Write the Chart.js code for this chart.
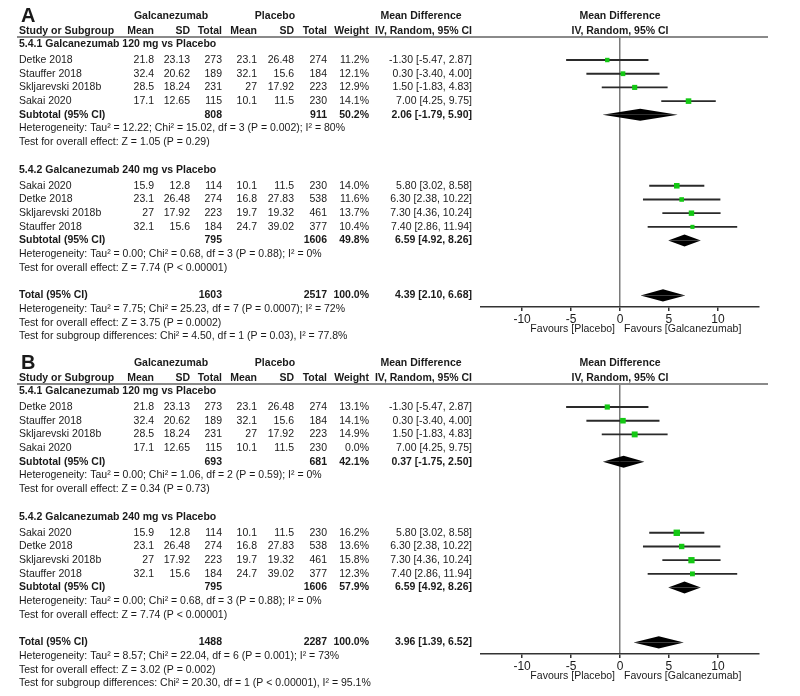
<!DOCTYPE html>
<html>
<head>
<meta charset="utf-8">
<script src="https://cdn.jsdelivr.net/npm/chart.js@4.4.1/dist/chart.umd.min.js"></script>
<style>
  body { margin: 0; background: #fff; }
  #wrap { position: relative; width: 800px; height: 696px; }
  canvas { position: absolute; left: 0; }
</style>
</head>
<body>
<div id="wrap">
  <canvas id="panelA" width="800" height="347" style="top:0"></canvas>
  <canvas id="panelB" width="800" height="349" style="top:347px"></canvas>
</div>
<script>
// ---- data: 5.4.1 Galcanezumab 120 mg vs Placebo ----
const studiesG1 = ['Detke 2018', 'Stauffer 2018', 'Skljarevski 2018b', 'Sakai 2020'];
const galcMeanG1 = [21.8, 32.4, 28.5, 17.1];
const galcSdG1 = [23.13, 20.62, 18.24, 12.65];
const galcNG1 = [273, 189, 231, 115];
const placMeanG1 = [23.1, 32.1, 27, 10.1];
const placSdG1 = [26.48, 15.6, 17.92, 11.5];
const placNG1 = [274, 184, 223, 230];
const mdG1 = [-1.30, 0.30, 1.50, 7.00];
const loG1 = [-5.47, -3.40, -1.83, 4.25];
const hiG1 = [2.87, 4.00, 4.83, 9.75];

// ---- data: 5.4.2 Galcanezumab 240 mg vs Placebo ----
const studiesG2 = ['Sakai 2020', 'Detke 2018', 'Skljarevski 2018b', 'Stauffer 2018'];
const galcMeanG2 = [15.9, 23.1, 27, 32.1];
const galcSdG2 = [12.8, 26.48, 17.92, 15.6];
const galcNG2 = [114, 274, 223, 184];
const placMeanG2 = [10.1, 16.8, 19.7, 24.7];
const placSdG2 = [11.5, 27.83, 19.32, 39.02];
const placNG2 = [230, 538, 461, 377];
const mdG2 = [5.80, 6.30, 7.30, 7.40];
const loG2 = [3.02, 2.38, 4.36, 2.86];
const hiG2 = [8.58, 10.22, 10.24, 11.94];

// weights per panel
const weightA1 = [11.2, 12.1, 12.9, 14.1];
const weightA2 = [14.0, 11.6, 13.7, 10.4];
const weightB1 = [13.1, 14.1, 14.9, 0.0];
const weightB2 = [16.2, 13.6, 15.8, 12.3];

// summaries: [subtotal 1, subtotal 2, total]
const sumMdA = [2.06, 6.59, 4.39];
const sumLoA = [-1.79, 4.92, 2.10];
const sumHiA = [5.90, 8.26, 6.68];
const sumGalcNA = [808, 795, 1603];
const sumPlacNA = [911, 1606, 2517];
const sumWeightA = [50.2, 49.8, 100.0];

const sumMdB = [0.37, 6.59, 3.96];
const sumLoB = [-1.75, 4.92, 1.39];
const sumHiB = [2.50, 8.26, 6.52];
const sumGalcNB = [693, 795, 1488];
const sumPlacNB = [681, 1606, 2287];
const sumWeightB = [42.1, 57.9, 100.0];

const statsA = [
  'Heterogeneity: Tau² = 12.22; Chi² = 15.02, df = 3 (P = 0.002); I² = 80%',
  'Test for overall effect: Z = 1.05 (P = 0.29)',
  'Heterogeneity: Tau² = 0.00; Chi² = 0.68, df = 3 (P = 0.88); I² = 0%',
  'Test for overall effect: Z = 7.74 (P < 0.00001)',
  'Heterogeneity: Tau² = 7.75; Chi² = 25.23, df = 7 (P = 0.0007); I² = 72%',
  'Test for overall effect: Z = 3.75 (P = 0.0002)',
  'Test for subgroup differences: Chi² = 4.50, df = 1 (P = 0.03), I² = 77.8%'
];
const statsB = [
  'Heterogeneity: Tau² = 0.00; Chi² = 1.06, df = 2 (P = 0.59); I² = 0%',
  'Test for overall effect: Z = 0.34 (P = 0.73)',
  'Heterogeneity: Tau² = 0.00; Chi² = 0.68, df = 3 (P = 0.88); I² = 0%',
  'Test for overall effect: Z = 7.74 (P < 0.00001)',
  'Heterogeneity: Tau² = 8.57; Chi² = 22.04, df = 6 (P = 0.001); I² = 73%',
  'Test for overall effect: Z = 3.02 (P = 0.002)',
  'Test for subgroup differences: Chi² = 20.30, df = 1 (P < 0.00001), I² = 95.1%'
];

const axisTicks = [-10, -5, 0, 5, 10];

// ---- layout ----
const FONT = "'Liberation Sans', Arial, sans-serif";
const FS = 10.5;
const TXT = '#1a1a1a';
const COLS = [154, 190, 222, 257, 294, 327, 369, 472]; // right edges

// row positions (in row units on the y scale)
function rowLayout() {
  const r = {};
  let v = 0.5;
  r.title1 = v; v += 1.18;
  r.g1 = []; for (let i = 0; i < 4; i++) { r.g1.push(v); v += 1; }
  r.sub1 = v; v += 1; r.het1 = v; v += 1; r.eff1 = v; v += 2;
  r.title2 = v; v += 1.18;
  r.g2 = []; for (let i = 0; i < 4; i++) { r.g2.push(v); v += 1; }
  r.sub2 = v; v += 1; r.het2 = v; v += 1; r.eff2 = v; v += 2;
  r.total = v; v += 1; r.hetT = v; v += 1; r.effT = v; v += 1; r.subgrp = v;
  return r;
}
const ROWS = rowLayout();

function fmt(v) { return v.toFixed(2); }
function ci(md, lo, hi) { return fmt(md) + ' [' + fmt(lo) + ', ' + fmt(hi) + ']'; }

function diamond(md, lo, hi, v, dy) {
  return {
    type: 'line',
    data: [{ x: lo, y: v }, { x: md, y: v + dy }, { x: hi, y: v }],
    borderWidth: 0,
    pointRadius: 0,
    tension: 0,
    fill: { value: v },
    backgroundColor: '#000',
    order: 0
  };
}

function makePanel(canvasId, letter, w1, w2, sMd, sLo, sHi, sNG, sNP, sW, stats) {
  // squares + whiskers (skip studies with zero weight)
  const pts = [], radii = [], bars = [];
  const addStudies = (md, lo, hi, w, ys) => {
    md.forEach((m, i) => {
      if (w[i] <= 0) return;
      pts.push({ x: m, y: ys[i] });
      radii.push(w[i] * 0.28);
      bars.push({ x: [lo[i], hi[i]], y: ys[i] });
    });
  };
  addStudies(mdG1, loG1, hiG1, w1, ROWS.g1);
  addStudies(mdG2, loG2, hiG2, w2, ROWS.g2);

  const sumRows = [ROWS.sub1, ROWS.sub2, ROWS.total];
  const diamonds = [];
  sMd.forEach((m, i) => {
    diamonds.push(diamond(m, sLo[i], sHi[i], sumRows[i], -0.44));
    diamonds.push(diamond(m, sLo[i], sHi[i], sumRows[i], 0.44));
  });

  const tablePlugin = {
    id: 'table',
    afterDraw(chart) {
      const { ctx, chartArea, scales: { x, y } } = chart;
      const py = v => y.getPixelForValue(v);
      const x0 = x.getPixelForValue(0);
      const t = (s, px, v, align, bold, size) => {
        ctx.font = (bold ? 'bold ' : '') + (size || FS) + 'px ' + FONT;
        ctx.fillStyle = TXT;
        ctx.textAlign = align;
        ctx.textBaseline = 'middle';
        ctx.fillText(s, px, typeof v === 'number' ? py(v) : v.px);
      };
      ctx.save();
      // header rule
      ctx.strokeStyle = '#8a8a8a';
      ctx.lineWidth = 2;
      ctx.beginPath();
      ctx.moveTo(17, chartArea.top);
      ctx.lineTo(768, chartArea.top);
      ctx.stroke();

      const h1 = -1.55, h2 = -0.45;
      t(letter, 21, h1 + 0.05, 'left', true, 20);
      t('Galcanezumab', 171, h1, 'center', true);
      t('Placebo', 275, h1, 'center', true);
      t('Mean Difference', 421, h1, 'center', true);
      t('Mean Difference', x0, h1, 'center', true);
      t('Study or Subgroup', 19, h2, 'left', true);
      ['Mean', 'SD', 'Total', 'Mean', 'SD', 'Total', 'Weight', 'IV, Random, 95% CI']
        .forEach((s, i) => t(s, COLS[i], h2, 'right', true));
      t('IV, Random, 95% CI', x0, h2, 'center', true);

      const studyRow = (name, gm, gs, gn, pm, ps, pn, w, md, lo, hi, v) => {
        t(name, 19, v, 'left', false);
        [String(gm), String(gs), String(gn), String(pm), String(ps), String(pn),
         w.toFixed(1) + '%', ci(md, lo, hi)]
          .forEach((s, i) => t(s, COLS[i], v, 'right', false));
      };
      const sumRow = (label, i, v) => {
        t(label, 19, v, 'left', true);
        t(String(sNG[i]), COLS[2], v, 'right', true);
        t(String(sNP[i]), COLS[5], v, 'right', true);
        t(sW[i].toFixed(1) + '%', COLS[6], v, 'right', true);
        t(ci(sMd[i], sLo[i], sHi[i]), COLS[7], v, 'right', true);
      };

      t('5.4.1 Galcanezumab 120 mg vs Placebo', 19, ROWS.title1, 'left', true);
      studiesG1.forEach((s, i) => studyRow(s, galcMeanG1[i], galcSdG1[i], galcNG1[i],
        placMeanG1[i], placSdG1[i], placNG1[i], w1[i], mdG1[i], loG1[i], hiG1[i], ROWS.g1[i]));
      sumRow('Subtotal (95% CI)', 0, ROWS.sub1);
      t(stats[0], 19, ROWS.het1, 'left', false);
      t(stats[1], 19, ROWS.eff1, 'left', false);

      t('5.4.2 Galcanezumab 240 mg vs Placebo', 19, ROWS.title2, 'left', true);
      studiesG2.forEach((s, i) => studyRow(s, galcMeanG2[i], galcSdG2[i], galcNG2[i],
        placMeanG2[i], placSdG2[i], placNG2[i], w2[i], mdG2[i], loG2[i], hiG2[i], ROWS.g2[i]));
      sumRow('Subtotal (95% CI)', 1, ROWS.sub2);
      t(stats[2], 19, ROWS.het2, 'left', false);
      t(stats[3], 19, ROWS.eff2, 'left', false);

      sumRow('Total (95% CI)', 2, ROWS.total);
      t(stats[4], 19, ROWS.hetT, 'left', false);
      t(stats[5], 19, ROWS.effT, 'left', false);
      t(stats[6], 19, ROWS.subgrp, 'left', false);

      const fy = { px: chartArea.bottom + 22 };
      t('Favours [Placebo]', x0 - 5, fy, 'right', false);
      t('Favours [Galcanezumab]', x0 + 4, fy, 'left', false);
      ctx.restore();
    }
  };

  const canvas = document.getElementById(canvasId);
  const bottomPad = canvas.height - 307 - 30;

  return new Chart(canvas, {
    type: 'scatter',
    data: {
      datasets: [
        {
          type: 'scatter',
          data: pts,
          pointStyle: 'rect',
          pointRadius: radii,
          backgroundColor: '#14c814',
          borderWidth: 0,
          order: -1
        },
        {
          type: 'bar',
          indexAxis: 'y',
          data: bars,
          backgroundColor: '#2a2a2a',
          borderWidth: 0,
          barThickness: 1.2,
          order: 1
        },
        ...diamonds
      ]
    },
    options: {
      responsive: false,
      animation: false,
      devicePixelRatio: 1,
      layout: { padding: { left: 481, right: 41, top: 37, bottom: bottomPad } },
      plugins: { legend: { display: false }, tooltip: { enabled: false } },
      scales: {
        x: {
          type: 'linear',
          min: -14.2,
          max: 14.2,
          offset: false,
          afterBuildTicks: s => { s.ticks = axisTicks.map(v => ({ value: v })); },
          afterFit: s => { s.height = 30; },
          border: { display: true, color: '#333', width: 1.5 },
          grid: {
            offset: false,
            drawOnChartArea: true,
            color: c => (c.tick && c.tick.value === 0 ? '#7a7a7a' : 'rgba(0,0,0,0)'),
            lineWidth: 1.5,
            tickColor: '#333',
            tickLength: 4
          },
          ticks: {
            color: TXT,
            padding: 1,
            font: { family: FONT, size: 12 },
            callback: v => String(v)
          }
        },
        y: {
          type: 'linear',
          display: false,
          reverse: true,
          offset: false,
          grid: { offset: false },
          min: 0,
          max: 270 / 13.7
        }
      }
    },
    plugins: [tablePlugin]
  });
}

makePanel('panelA', 'A', weightA1, weightA2, sumMdA, sumLoA, sumHiA, sumGalcNA, sumPlacNA, sumWeightA, statsA);
makePanel('panelB', 'B', weightB1, weightB2, sumMdB, sumLoB, sumHiB, sumGalcNB, sumPlacNB, sumWeightB, statsB);
</script>
</body>
</html>
